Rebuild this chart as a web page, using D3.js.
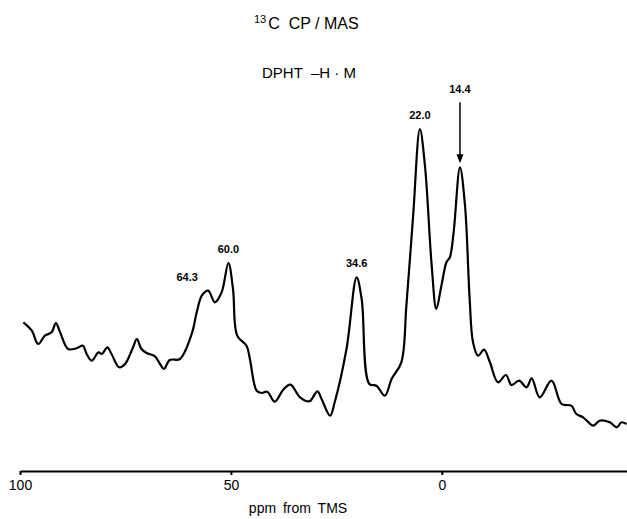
<!DOCTYPE html>
<meta charset="utf-8">
<style>
body { margin: 0; background: #fff; }
svg { font-family: "Liberation Sans", Arial, sans-serif; }
.axis .domain { stroke: #000; stroke-width: 2px; }
.axis .tick line { stroke: #000; stroke-width: 2px; }
.axis .tick text { font-size: 14px; fill: #000; }
.spectrum { fill: none; stroke: #000; stroke-width: 2.2px; stroke-linejoin: round; }
.peak { font-size: 11px; font-weight: bold; fill: #000; }
</style>
<body>
<script src="https://cdn.jsdelivr.net/npm/d3@7"></script>
<script>

// chemical shift (ppm, as placed on the axis) and intensity (arbitrary units)
var shift = [99.2, 97.2, 95.7, 94.1, 92.5, 91.5, 90.5, 88.6, 86.6, 85.1, 84.2, 83.0, 81.4, 80.6, 79.3, 78.3,
  76.5, 75.1, 73.2, 72.3, 71.2, 70.0, 68.0, 66.8, 65.9, 64.5, 62.1, 59.3, 58.1, 56.9, 55.4, 53.8, 52.2,
  50.6, 49.5, 48.5, 46.3, 45.5, 43.9, 42.7, 41.4, 39.6, 37.6, 35.9, 33.6, 31.4, 29.5, 28.5, 26.5, 25.4,
  22.6, 20.2, 19.0, 17.2, 15.5, 13.5, 11.9, 9.6, 8.4, 6.8, 5.2, 4.0, 2.4, 1.3, 0.1, -1.1, -1.9, -2.8,
  -4.3, -5.5, -6.6, -7.4, -8.6, -10.0, -11.4, -13.3, -15.2, -16.5, -18.3, -20.1, -21.3, -23.2, -26.0,
  -28.4, -30.7, -31.9, -33.5, -35.9, -37.4, -39.8, -41.5, -42.6, -43.8];

var intensity = [148.7, 140.3, 127, 135.3, 138.7, 148, 138.7, 122, 122.7, 125.3, 117, 110.3, 118.7, 117, 123.7, 117,
  103.7, 107, 123.7, 132, 122, 118, 114.7, 107, 102, 111, 112, 137, 158.7, 175.3, 180.3, 168.7, 178.7,
  208, 182, 135.3, 125.3, 112, 80.3, 78, 79.3, 69.3, 81.3, 86.3, 73.7, 69.7, 79.7, 72, 55.3, 68.7,
  122, 193.7, 172, 87, 85.3, 75.3, 92, 108.7, 165.3, 255.3, 342, 305.3, 205.3, 162, 185.3, 208.7, 213.7, 238.7,
  303.7, 265.3, 172, 128.7, 115.3, 121.3, 108.7, 88.7, 96, 86, 90.3, 83.7, 92.7, 73.7, 90.3,
  67, 65.3, 57, 53.7, 45.3, 50.3, 48.7, 43.7, 48.7, 47];

var xTicks = [100, 50, 0];

var peakText = ["64.3", "60.0", "34.6", "22.0", "14.4"];
var peakShift = [55.4, 50.6, 20.2, 5.2, -4.3];

var width = 627, height = 519;

var x = d3.scaleLinear()
    .domain([100, -43.9])
    .range([20, 627]);

var y = d3.scaleLinear()
    .domain([0, 350])
    .range([471, 121]);

var svg = d3.select("body").append("svg")
    .attr("width", width)
    .attr("height", height);

svg.append("text")
    .attr("x", 254)
    .attr("y", 29)
    .attr("font-size", 16)
    .attr("xml:space", "preserve")
    .html('<tspan font-size="11" dy="-6">13</tspan><tspan dy="6" dx="2">C  CP / MAS</tspan>');

svg.append("text")
    .attr("x", 262)
    .attr("y", 78)
    .attr("font-size", 15)
    .attr("xml:space", "preserve")
    .text("DPHT  \u2013H \u00b7 M");

svg.append("g")
    .attr("class", "axis")
    .attr("transform", "translate(0," + y(0) + ")")
    .call(d3.axisBottom(x)
        .tickValues(xTicks)
        .tickFormat(d3.format("d"))
        .tickSize(4)
        .tickSizeOuter(0)
        .tickPadding(5));

svg.append("text")
    .attr("x", 298)
    .attr("y", 513)
    .attr("text-anchor", "middle")
    .attr("font-size", 14)
    .attr("word-spacing", 3)
    .text("ppm  from  TMS");

var line = d3.line()
    .x(function(d, i) { return x(shift[i]); })
    .y(function(d) { return y(d); })
    .curve(d3.curveCatmullRom.alpha(0.5));

svg.append("path")
    .attr("class", "spectrum")
    .attr("d", line(intensity));

function peakHeight(p) {
  var i = shift.indexOf(p);
  return intensity[i];
}

// label placement: the 64.3 label sits left of its shoulder, 14.4 has an arrow
var offsets = {"64.3": [-21, 10], "14.4": [0, 74]};

svg.selectAll(".peak")
    .data(peakText)
  .enter().append("text")
    .attr("class", "peak")
    .attr("text-anchor", "middle")
    .attr("x", function(d, i) { return x(peakShift[i]) + (offsets[d] ? offsets[d][0] : 0); })
    .attr("y", function(d, i) { return y(peakHeight(peakShift[i])) - (offsets[d] ? offsets[d][1] : 10); })
    .text(function(d) { return d; });

var ax = x(peakShift[4]), ay = y(peakHeight(peakShift[4]));
svg.append("line")
    .attr("x1", ax).attr("x2", ax)
    .attr("y1", ay - 65).attr("y2", ay - 10)
    .attr("stroke", "#000")
    .attr("stroke-width", 1.5);
svg.append("path")
    .attr("d", "M" + (ax - 3.5) + "," + (ay - 13) + "L" + (ax + 3.5) + "," + (ay - 13) + "L" + ax + "," + (ay - 4) + "Z")
    .attr("fill", "#000");

</script>
